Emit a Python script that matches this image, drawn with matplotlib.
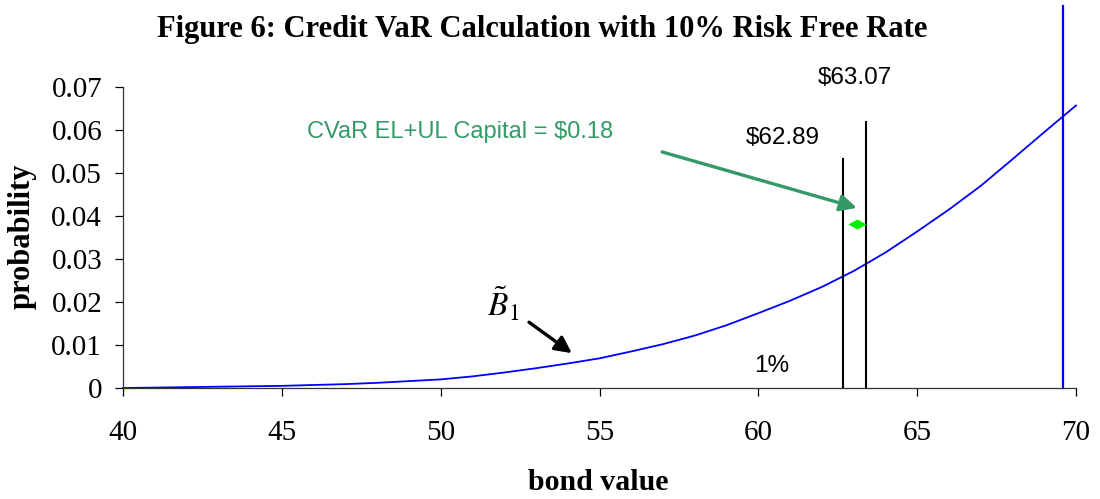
import matplotlib.pyplot as plt
from matplotlib.path import Path

# curve
bond = [40, 41, 42, 43, 44, 45, 46, 47, 48, 49, 50, 51, 52, 53, 54, 55,
        56, 57, 58, 59, 60, 61, 62, 63, 64, 65, 66, 67, 68, 69, 70]
prob = [0.0, 0.0001, 0.0002, 0.0003, 0.0004, 0.0005, 0.0007, 0.0009, 0.0012, 0.0016, 0.002,
        0.0027, 0.0036, 0.0046, 0.0057, 0.0069, 0.0085, 0.0102, 0.0122, 0.0146, 0.0174,
        0.0203, 0.0235, 0.0272, 0.0315, 0.0364, 0.0415, 0.047, 0.0532, 0.0595, 0.0657]

var_x = [62.66, 63.39]
var_top = [0.0533, 0.0619]
var_labels = ['$62.89', '$63.07']
blue_x = 69.59
capital_x, capital_y = 63.1, 0.0381

serif = 'Liberation Serif'
sans = 'Liberation Sans'
green = '#339966'

plt.rcParams['mathtext.fontset'] = 'stix'
fig = plt.figure(figsize=(11, 4.99), dpi=100)
ax = fig.add_axes([123/1100, 1 - 388/499, (1076-123)/1100, (388-87)/499])

ax.plot(bond, prob, color='#0000ff', lw=1.3, clip_on=False, solid_joinstyle='round')
for xv, top in zip(var_x, var_top):
    ax.plot([xv, xv], [0, top], color='black', lw=1.5)
ax.plot([blue_x, blue_x], [0, 0.0888], color='#0000ff', lw=1.6, clip_on=False)

diamond = Path([(-1, 0), (0, 0.55), (1, 0), (0, -0.55), (-1, 0)],
               [Path.MOVETO, Path.LINETO, Path.LINETO, Path.LINETO, Path.CLOSEPOLY])
ax.plot([capital_x], [capital_y], marker=diamond, ms=13, color='#00ee00', mec='none', ls='none')

ax.set_xlim(40, 70)
ax.set_ylim(0, 0.07)
ax.set_xticks([40, 45, 50, 55, 60, 65, 70])
ax.set_yticks([0, 0.01, 0.02, 0.03, 0.04, 0.05, 0.06, 0.07])
ax.set_yticklabels(['0', '0.01', '0.02', '0.03', '0.04', '0.05', '0.06', '0.07'])
for s in ['top', 'right']:
    ax.spines[s].set_visible(False)
for s in ['left', 'bottom']:
    ax.spines[s].set_linewidth(0.9)
    ax.spines[s].set_color('#333333')
ax.tick_params(axis='x', direction='out', length=6, width=0.9, pad=17, labelsize=21)
ax.tick_params(axis='y', direction='out', length=6, width=0.9, pad=9, labelsize=21)
for lab in ax.get_xticklabels() + ax.get_yticklabels():
    lab.set_family(serif)

# annotations
ax.text(60.77, 0.0581, var_labels[0], ha='center', va='center', fontsize=17.5, family=sans)
ax.text(63.04, 0.0721, var_labels[1], ha='center', va='center', fontsize=17.5, family=sans, clip_on=False)
ax.text(50.6, 0.0595, 'CVaR EL+UL Capital = $0.18', ha='center', va='center', fontsize=17,
        family=sans, color=green)
ax.text(60.43, 0.0051, '1%', ha='center', va='center', fontsize=17.5, family=sans)
ax.annotate('', xy=(63.1, 0.0419), xytext=(56.97, 0.0549),
            arrowprops=dict(arrowstyle='-|>,head_length=1.0,head_width=0.5', color=green, lw=2.4,
                            shrinkA=0, shrinkB=0))
ax.annotate('', xy=(54.13, 0.0081), xytext=(52.78, 0.0153),
            arrowprops=dict(arrowstyle='-|>,head_length=1.0,head_width=0.5', color='black', lw=2.4,
                            shrinkA=0, shrinkB=0))
ax.text(51.96, 0.0195, r'$\tilde{B}_1$', ha='center', va='center', fontsize=24)

fig.text(542/1100, 1 - 30/499, 'Figure 6: Credit VaR Calculation with 10% Risk Free Rate',
         ha='center', va='center', fontsize=22, fontweight='bold', family=serif)
fig.text(22/1100, 1 - 236/499, 'probability', ha='center', va='center', rotation=90,
         fontsize=22, fontweight='bold', family=serif)
fig.text(598/1100, 1 - 482/499, 'bond value', ha='center', va='center',
         fontsize=21.5, fontweight='bold', family=serif)

fig.savefig('out.png', dpi=100)
